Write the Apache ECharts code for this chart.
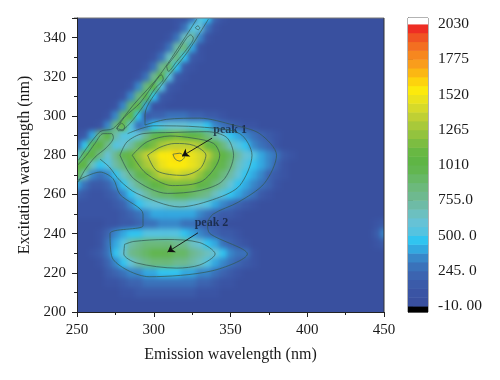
<!DOCTYPE html>
<html>
<head>
<meta charset="utf-8">
<script src="https://cdn.jsdelivr.net/npm/echarts@6/dist/echarts.min.js"></script>
<style>
html, body { margin: 0; padding: 0; background: #fff; }
#page { position: relative; width: 500px; height: 380px; overflow: hidden; }
#heatClip { position: absolute; left: 77px; top: 18px; width: 307px; height: 294px; overflow: hidden; background: #39509f; }
#heat { position: absolute; left: -77px; top: -18px; width: 500px; height: 380px; filter: blur(2.4px); }
#main { position: absolute; left: 0; top: 0; width: 500px; height: 380px; }
</style>
</head>
<body>
<div id="page">
    <div id="heatClip"><div id="heat"></div></div>
    <div id="main"></div>
</div>
<script>
// emission wavelength of each matrix column starts here, 5 nm apart
var emStart = 250;
var emStep = 5;
// excitation wavelength of each matrix row
var exValues = [350,345,340,335,330,325,320,315,310,305,300,295,290,285,280,275,270,265,260,255,250,245,240,235,230,225,220,215,210];

// intensities, rows as in exValues, columns from 250 nm
var intensity = [
[40,40,40,40,40,40,40,40,40,40,40,40,40,60,100,280,520,470,230,80],
[40,40,40,40,40,40,40,40,40,40,40,40,40,90,260,560,620,300,90],
[40,40,40,40,40,40,40,40,40,40,40,40,90,280,680,740,320,100],
[40,40,40,40,40,40,40,40,40,40,40,90,260,700,820,400,110],
[40,40,40,40,40,40,40,40,40,40,90,270,680,860,480,140,60],
[40,40,40,40,40,40,40,40,40,90,280,760,930,470,130,60],
[40,40,40,40,40,40,40,40,90,300,800,1050,560,150,60],
[40,40,40,40,40,40,40,90,310,860,1070,500,130,60],
[40,40,40,40,40,40,90,320,880,1040,440,120,60],
[40,40,40,40,40,90,330,920,1020,400,110,60],
[40,40,40,40,90,330,900,1060,450,170,210,240,260,270,260,240,210,170,120,80],
[40,40,40,90,320,860,1080,560,300,370,460,540,590,600,590,560,510,440,360,280,210,150,110,70],
[80,160,380,880,1070,720,520,520,620,790,960,1060,1130,1150,1130,1070,970,840,720,590,470,400,320,250,190,120,60],
[200,460,950,1070,780,540,580,720,900,1050,1180,1290,1360,1390,1390,1360,1270,1130,1020,860,690,560,440,370,290,200,110,50],
[520,1000,1040,760,620,760,950,1120,1260,1370,1450,1520,1580,1620,1580,1490,1420,1340,1180,1040,890,730,570,500,410,320,250,130,60],
[1040,1020,660,470,540,700,880,1030,1170,1300,1390,1470,1520,1540,1530,1470,1400,1250,1110,980,830,680,540,470,390,310,230,100],
[980,640,340,260,310,470,640,810,980,1130,1250,1330,1380,1400,1380,1340,1250,1120,1000,860,730,600,480,400,320,240,140,60],
[380,250,180,150,200,330,470,630,790,940,1060,1130,1170,1170,1170,1140,1070,970,850,720,600,490,410,340,280,190,90],
[210,130,100,90,130,220,340,470,620,750,840,900,940,950,950,930,880,790,680,560,480,400,320,250,170,90],
[110,80,70,70,90,150,230,330,440,510,570,620,650,660,650,620,570,500,410,330,260,190,130,80],
[60,60,60,60,70,110,160,230,290,340,380,410,430,430,420,390,350,290,230,170,120,80],
[40,40,40,50,70,90,130,170,220,270,300,320,320,310,290,250,210,170,130,90,50,40,40,40,40,40,40,40,40,40,40,40,40,40,40,40,40,40,40,60,130],
[40,40,40,90,230,330,390,440,490,530,550,550,540,510,470,410,350,300,240,180,120,80,40,40,40,40,40,40,40,40,40,40,40,40,40,40,40,40,40,130,330],
[40,40,50,110,270,400,560,700,780,830,860,860,840,800,760,690,600,470,380,300,230,150,90,40,40,40,40,40,40,40,40,40,40,40,40,40,40,40,40,60,130],
[40,40,60,120,290,440,620,780,880,940,980,1000,980,940,890,810,720,650,570,440,350,300,250,90],
[40,40,50,100,220,360,480,600,720,790,830,840,830,800,770,710,630,530,420,340,270,220,140,70],
[40,40,40,50,120,190,250,310,360,400,430,450,460,450,430,400,360,320,270,220,160,100],
[40,40,40,40,60,110,150,190,220,250,270,280,280,280,270,250,220,190,150,110,70],
[40,40,40,40,40,50,80,100,120,140,160,170,170,170,160,140,110,90,70]
];

// contour lines as [emission, excitation]
var contourBandLeft = [[250.9,277.4],[265,292],[273.7,293.7],[287.8,306.6],[304,321],[328,349.4]];
var contourOuter = [[335.6,349.4],[321.4,332],[306,316.8],[294.3,300.6],[294.3,295.4],[308.4,298.3],[330,298.9],[351.8,295.4],[369,291],[380,280],[372,265.6],[355,256],[338.8,250],[335,245],[336.6,240],[361,229.6],[338,221],[297,218],[273,227.6],[271.5,240],[293,244],[293,250],[278,260],[273.5,268],[265,271.4],[250,267]];
var contour500 = [[265,278],[271,274],[278,267],[289,260.5],[317,253.6],[341,258],[356,264.5],[364,280],[356,291],[330,294.4],[300,295],[283,291]];
var contour755 = [[278,280],[287,268],[309,260.5],[330,262],[345,267],[352,280],[347.6,289],[334.6,292],[312.5,291.6],[293,291],[282.6,286.8],[278,280]];
var contour1010 = [[286,280],[295,270.7],[312,264.5],[332,267],[343,280],[339,286],[325.6,288.7],[310.6,289.8],[295.6,286.8],[286,280]];
var contour1265 = [[296,280],[302,272],[319,269.7],[330,273],[334,280],[326,285],[313.8,286],[304,284],[296,280]];
var contour1520 = [[312.5,280.5],[317,281],[320,279],[317,277],[314,278],[312.5,280.5]];
var contourPeak2 = [[281,234.5],[280.5,229.6],[289,225],[315,222.4],[330,224],[340,229.6],[330,235.4],[308,237],[287,236],[281,234.5]];
var contourBlobA = [[250.4,274.9],[256.2,280],[261.7,286],[267,291],[272.6,291],[273.7,289],[269.3,284],[261.7,279],[255,272.3],[250.9,266.3]];
var contourBlobB = [[276,293.7],[279,296.3],[281,294.6],[280,292.5],[277,292.5],[276,293.7]];
var contourBandMid = [[275.8,293.7],[281.3,299.7],[291,306.6],[302,318.6],[305,321],[306.2,319],[300.8,314],[293.2,305],[284.5,296.3],[279,293],[275.8,293.7]];
var contourBandTop = [[308.4,325.4],[315,332],[321.4,339.7],[324,341.4],[325.8,339.7],[321.4,334],[315,327.9],[309.5,322.8],[308.4,325.4]];
var contourSpot = [[327,345],[328.6,346],[330,345],[329,344],[327,345]];
var contourList = [contourBandLeft,contourOuter,contour500,contour755,contour1010,contour1265,contour1520,contourPeak2,contourBlobA,contourBlobB,contourBandMid,contourBandTop,contourSpot];

// annotations
var peakNames = ['peak 1','peak 2'];
var peakLabelAt = [[349.7,292.9],[337.6,245.6]];
var peakArrowFrom = [[338,288.7],[328.8,240.4]];
var peakArrowTo = [[318.4,279.5],[309,230.6]];

// colour bar
var levelStart = -10;
var levelStep = 63.75;
var levelColors = [
'#39509f','#3a54a4','#3b5ba9','#3c64b0','#3a72ba','#3887c9','#33a8e0','#31c4f0',
'#55c3e0','#66c2d6','#6cc0c0','#6ebba6','#6eb98f','#6cb97c','#67b866','#62b650',
'#5fb545','#68b843','#7cbd41','#93c33e','#a8c93a','#bfd034','#d6da2a','#ebe31c',
'#fcea0c','#fdd30d','#fbb713','#f99d1c','#f6871f','#f36f21','#f05423','#ee2e24'
];
var barTickValues = [-10,245,500,755,1010,1265,1520,1775,2030];
var barTickLabels = ['-10. 00','245. 0','500. 0','755.0','1010','1265','1520','1775','2030'];

var serif = '"Liberation Serif", serif';
var plotGrid = {left: 77, top: 18, width: 307, height: 294};

function levelColor(v) {
    var i = Math.floor((v - levelStart) / levelStep);
    i = Math.max(0, Math.min(levelColors.length - 1, i));
    return levelColors[i];
}

var cells = [];
intensity.forEach(function (row, r) {
    row.forEach(function (v, c) {
        cells.push([emStart + c * emStep, exValues[r], v]);
    });
});

// the filled map, softened by the css blur on #heat
var heatChart = echarts.init(document.getElementById('heat'));
heatChart.setOption({
    animation: false,
    backgroundColor: levelColors[0],
    grid: plotGrid,
    xAxis: {type: 'value', min: 250, max: 450, show: false},
    yAxis: {type: 'value', min: 200, max: 350, show: false},
    series: [{
        type: 'custom',
        clip: false,
        data: cells,
        renderItem: function (params, api) {
            var em = api.value(0), ex = api.value(1);
            var a = api.coord([em - emStep / 2, ex + emStep / 2]);
            var b = api.coord([em + emStep / 2, ex - emStep / 2]);
            return {
                type: 'rect',
                shape: {x: a[0], y: a[1], width: b[0] - a[0] + 0.5, height: b[1] - a[1] + 0.5},
                style: {fill: levelColor(api.value(2))}
            };
        }
    }]
});

// one band per level, with the black and white end caps
var barBands = levelColors.map(function (color, i) {
    return [levelStart + i * levelStep, levelStart + (i + 1) * levelStep, color];
});
barBands.unshift([-53, levelStart, '#000000']);
barBands.push([levelStart + levelColors.length * levelStep, 2073, '#ffffff']);

var contourSeries = contourList.map(function (line) {
    return {
        type: 'line',
        xAxisIndex: 0,
        yAxisIndex: 0,
        data: line,
        smooth: 0.3,
        showSymbol: false,
        silent: true,
        lineStyle: {color: '#34584f', width: 0.9, opacity: 0.8}
    };
});

var arrowSeries = {
    type: 'line',
    xAxisIndex: 0,
    yAxisIndex: 0,
    data: [],
    markLine: {
        silent: true,
        animation: false,
        symbol: ['none', 'arrow'],
        symbolSize: 7,
        label: {show: false},
        lineStyle: {color: '#111', width: 0.9, type: 'solid'},
        data: peakArrowFrom.map(function (from, i) {
            return [{coord: from}, {coord: peakArrowTo[i]}];
        })
    }
};

var labelSeries = {
    type: 'scatter',
    xAxisIndex: 0,
    yAxisIndex: 0,
    symbolSize: 0,
    silent: true,
    data: peakLabelAt.map(function (p, i) {
        return {value: p, name: peakNames[i]};
    }),
    label: {
        show: true,
        position: 'inside',
        formatter: '{b}',
        fontFamily: serif,
        fontWeight: 'bold',
        fontSize: 12,
        color: '#14233a'
    }
};

var barSeries = {
    type: 'custom',
    xAxisIndex: 1,
    yAxisIndex: 1,
    silent: true,
    data: barBands,
    encode: {y: [0, 1]},
    renderItem: function (params, api) {
        var a = api.coord([0, api.value(1)]);
        var b = api.coord([1, api.value(0)]);
        return {
            type: 'rect',
            shape: {x: a[0], y: a[1], width: b[0] - a[0], height: b[1] - a[1] + 0.5},
            style: {fill: barBands[params.dataIndex][2]}
        };
    }
};

var myChart = echarts.init(document.getElementById('main'));
myChart.setOption({
    animation: false,
    grid: [
        plotGrid,
        {left: 408, top: 18, width: 20, height: 294}
    ],
    xAxis: [
        {
            type: 'value', gridIndex: 0, min: 250, max: 450, interval: 50,
            name: 'Emission wavelength (nm)', nameLocation: 'middle', nameGap: 35,
            nameTextStyle: {fontFamily: serif, fontSize: 16, color: '#1a1a1a'},
            axisLine: {show: true, onZero: false, lineStyle: {color: '#222', width: 1}},
            axisTick: {show: true, length: 5, lineStyle: {color: '#222'}},
            minorTick: {show: true, splitNumber: 2, length: 3, lineStyle: {color: '#222'}},
            splitLine: {show: false},
            axisLabel: {fontFamily: serif, fontSize: 15, color: '#1a1a1a', margin: 11, showMinLabel: true, showMaxLabel: true}
        },
        {type: 'value', gridIndex: 1, min: 0, max: 1, show: false}
    ],
    yAxis: [
        {
            type: 'value', gridIndex: 0, min: 200, max: 350, interval: 20,
            name: 'Excitation wavelength (nm)', nameLocation: 'middle', nameGap: 44,
            nameTextStyle: {fontFamily: serif, fontSize: 16, color: '#1a1a1a'},
            axisLine: {show: true, onZero: false, lineStyle: {color: '#222', width: 1}},
            axisTick: {show: true, length: 5, lineStyle: {color: '#222'}},
            minorTick: {show: true, splitNumber: 2, length: 3, lineStyle: {color: '#222'}},
            splitLine: {show: false},
            axisLabel: {fontFamily: serif, fontSize: 15, color: '#1a1a1a', margin: 11, showMaxLabel: false}
        },
        {
            type: 'value', gridIndex: 1, position: 'right', min: -53, max: 2073,
            axisLine: {show: true, lineStyle: {color: '#666', width: 1}},
            axisTick: {show: true, length: 5, customValues: barTickValues, lineStyle: {color: '#333'}},
            splitLine: {show: false},
            axisLabel: {
                fontFamily: serif, fontSize: 15.5, color: '#1a1a1a', margin: 10, align: 'left',
                customValues: barTickValues,
                formatter: function (v) {
                    return barTickLabels[barTickValues.indexOf(v)];
                }
            }
        }
    ],
    series: [barSeries].concat(contourSeries, [arrowSeries, labelSeries]),
    graphic: [
        // frame lines that the axes do not draw
        {type: 'line', silent: true, shape: {x1: 74, y1: 18, x2: 384, y2: 18}, style: {stroke: '#777', lineWidth: 1}},
        {type: 'line', silent: true, shape: {x1: 384, y1: 18, x2: 384, y2: 312}, style: {stroke: '#333', lineWidth: 1}},
        {type: 'rect', silent: true, shape: {x: 408, y: 18, width: 20, height: 294}, style: {fill: 'none', stroke: '#666', lineWidth: 1}}
    ]
});
</script>
</body>
</html>
